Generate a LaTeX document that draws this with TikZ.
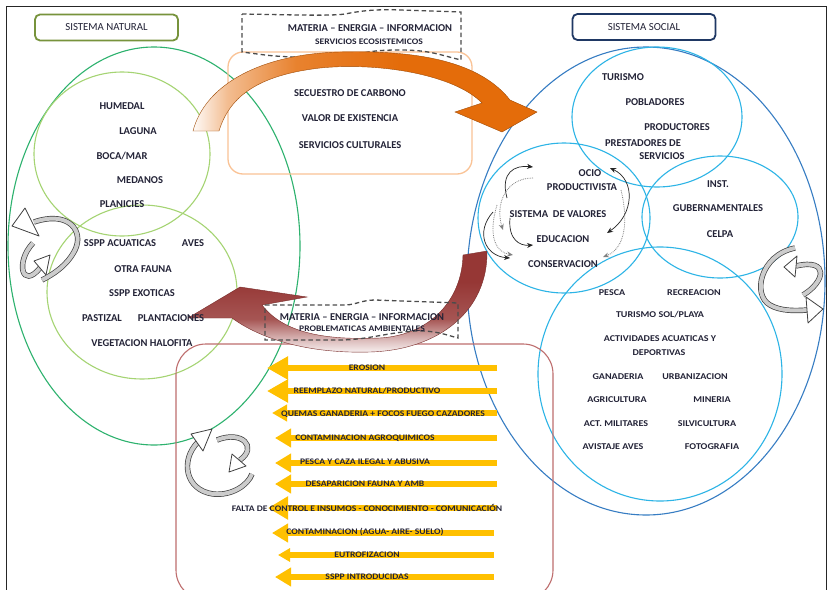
\documentclass[tikz,border=0pt]{standalone}
\usepackage{fontspec}
\setmainfont{Carlito}
\newfontfamily\widefont[FakeStretch=1.13]{Carlito}
\usetikzlibrary{arrows.meta}
\definecolor{txt}{RGB}{35,35,55}
\definecolor{natgreen}{RGB}{119,147,60}
\definecolor{socnavy}{RGB}{31,56,100}
\definecolor{biggreen}{RGB}{45,178,110}
\definecolor{ltgreen}{RGB}{165,212,115}
\definecolor{bigblue}{RGB}{55,125,195}
\definecolor{ltblue}{RGB}{45,180,230}
\definecolor{orbox}{RGB}{250,195,150}
\definecolor{orarrow}{RGB}{228,108,10}
\definecolor{mrn}{RGB}{150,55,53}
\definecolor{rosebox}{RGB}{190,110,110}
\definecolor{ylw}{RGB}{255,192,0}
\pgfdeclareverticalshading{mrnshade}{100bp}{color(0bp)=(mrn!4); color(25bp)=(mrn!4); color(31bp)=(mrn!30); color(42bp)=(mrn!85); color(60bp)=(mrn); color(100bp)=(mrn)}
\pgfdeclarehorizontalshading{orshade}{100bp}{color(0bp)=(orarrow!3); color(25bp)=(orarrow!3); color(30bp)=(orarrow!45); color(40bp)=(orarrow!85); color(55bp)=(orarrow); color(100bp)=(orarrow)}
\tikzset{
  lbl/.style={font=\bfseries\fontsize{10.5}{12}\selectfont, text=txt, inner sep=0pt},
  slbl/.style={font=\widefont\bfseries\fontsize{8.9}{10}\selectfont, text=txt, inner sep=0pt},
  ylbl/.style={font=\widefont\bfseries\fontsize{8.5}{10}\selectfont, text=txt, inner sep=0pt},
  titlebox/.style={draw, line width=1.8pt, rounded corners=5pt, minimum width=143pt, minimum height=26pt, inner sep=0pt, font=\fontsize{10.8}{12}\selectfont, text=txt},
  ellline/.style={line width=1.1pt},
  dashbox/.style={draw=black!70, line width=1.3pt, dash pattern=on 4.5pt off 3pt},
  yarr/.style={draw=ylw, line width=6pt},
  smallarr/.style={draw=black!85, line width=0.7pt, -{Stealth[length=6pt,width=5pt]}},
  dotarr/.style={draw=black!50, line width=0.8pt, densely dotted, -{Stealth[length=6pt,width=5pt]}},
  cyc/.style={draw=black!75, line width=0.7pt, double=black!20, double distance=4pt},
  cychead/.style={draw=black!75, fill=white, line width=0.8pt, line join=round},
}
\begin{document}
\begin{tikzpicture}[x=1pt,y=-1pt]
\useasboundingbox (0,0) rectangle (832,589);
\fill[white] (0,0) rectangle (832,589);
% frame
\draw[black!85, line width=1pt] (6,600) -- (6,6.5) -- (826.5,6.5) -- (826.5,600);

% natural system ellipses
\draw[biggreen, ellline] (154,246) ellipse [x radius=146pt, y radius=199pt];
\draw[ltgreen, ellline] (122,154) ellipse [x radius=88pt, y radius=82pt];
\draw[ltgreen, ellline] (142,292) ellipse [x radius=95pt, y radius=87pt];
% social system ellipses
\draw[bigblue, ellline] (646,281) ellipse [x radius=179pt, y radius=234pt];
\draw[ltblue, ellline] (657,117) ellipse [x radius=85pt, y radius=70pt];
\draw[ltblue, ellline] (564,218) ellipse [x radius=86pt, y radius=75pt];
\draw[ltblue, ellline] (720,217) ellipse [x radius=78pt, y radius=61pt];
\draw[ltblue, ellline] (660,374) ellipse [x radius=122pt, y radius=127pt];

% boxes
\draw[orbox, line width=1.3pt, rounded corners=15pt] (228,52) rectangle (472,174);
\draw[rosebox, line width=1.1pt, rounded corners=30pt] (176,344) rectangle (553,600);

% title boxes
\node[titlebox, draw=natgreen] (natural) at (106.5,27.5) {SISTEMA NATURAL};
\node[titlebox, draw=socnavy] (social) at (644,27) {SISTEMA SOCIAL};

% top dashed shape
\draw[dashbox] (242,14) .. controls (300,15) and (330,16) .. (345,14) .. controls (360,11) and (375,9) .. (400,10) -- (461,12) -- (461,60)
  .. controls (440,55) and (430,50) .. (400,50) .. controls (380,50) and (370,51) .. (355,55) .. controls (330,58) and (290,58) .. (265,55) -- (242,52) -- cycle;
\node[lbl] (mei1) at (370,28) {MATERIA -- ENERGIA -- INFORMACION};
\node[ylbl] (serv) at (369,42) {SERVICIOS ECOSISTEMICOS};

% orange arrow
\shadedraw[shading=orshade, draw=orarrow!70!black, line width=0.4pt]
  (193,131) -- (219,131) .. controls (230,95) and (260,75) .. (320,68) .. controls (380,62) and (455,75) .. (482,103)
  -- (455,112) -- (502,132) -- (537,112) -- (510,100)
  .. controls (480,62) and (420,50) .. (340,52) .. controls (260,54) and (205,85) .. (193,131) -- cycle;

\node[lbl] (secuestro) at (350,93) {SECUESTRO DE CARBONO};
\node[lbl] (valor) at (350,118) {VALOR DE EXISTENCIA};
\node[lbl] (culturales) at (350,145) {SERVICIOS CULTURALES};

% maroon arrow
\shadedraw[shading=mrnshade, draw=mrn!80!black, line width=0.4pt]
  (188,318) -- (240,287) -- (307,297) -- (262,305)
  .. controls (285,335) and (330,340) .. (380,338) .. controls (430,335) and (462,300) .. (463,255)
  -- (487,251) .. controls (488,310) and (440,350) .. (370,352) .. controls (300,354) and (255,335) .. (232,318) -- cycle;

% second dashed shape
\draw[dashbox] (265,305) -- (345,305) .. controls (355,305) and (362,300) .. (375,300) -- (458,303) -- (458,338)
  .. controls (450,336) and (440,332) .. (425,331) .. controls (395,330) and (370,340) .. (340,340) -- (265,340) -- cycle;
\node[lbl] (mei2) at (362,317) {MATERIA -- ENERGIA -- INFORMACION};
\node[ylbl] (probl) at (362,329) {PROBLEMATICAS AMBIENTALES};

% natural texts
\node[lbl] (humedal) at (122,106) {HUMEDAL};
\node[lbl] (laguna) at (138,131) {LAGUNA};
\node[lbl] (boca) at (122,156) {BOCA/MAR};
\node[lbl] (medanos) at (140,180) {MEDANOS};
\node[lbl] (planicies) at (122,204) {PLANICIES};
\node[lbl] (acuaticas) at (120,243) {SSPP ACUATICAS};
\node[lbl] (aves) at (193,243) {AVES};
\node[lbl] (otrafauna) at (143,269) {OTRA FAUNA};
\node[lbl] (exoticas) at (142,293) {SSPP EXOTICAS};
\node[lbl] (pastizal) at (102,318) {PASTIZAL};
\node[lbl] (plantaciones) at (171,318) {PLANTACIONES};
\node[lbl] (halofita) at (142,343) {VEGETACION HALOFITA};

% social texts
\node[lbl] (turismo) at (623,77) {TURISMO};
\node[lbl] (pobladores) at (655,102) {POBLADORES};
\node[lbl] (productores) at (677,127) {PRODUCTORES};
\node[lbl] (prestadores) at (643,143) {PRESTADORES DE};
\node[lbl] (servicios) at (662,156) {SERVICIOS};
\node[lbl] (ocio) at (590,173) {OCIO};
\node[lbl] (productivista) at (582,187) {PRODUCTIVISTA};
\node[lbl] (valores) at (558,214) {SISTEMA\ \ DE VALORES};
\node[lbl] (educacion) at (563,239) {EDUCACION};
\node[lbl] (conservacion) at (563,264) {CONSERVACION};
\node[lbl] (inst) at (718,184) {INST.};
\node[lbl] (guber) at (718,208) {GUBERNAMENTALES};
\node[lbl] (celpa) at (720,234) {CELPA};
\node[slbl] (pesca) at (612,293) {PESCA};
\node[slbl] (recreacion) at (694,293) {RECREACION};
\node[slbl] (solplaya) at (660,315) {TURISMO SOL/PLAYA};
\node[slbl] (actividades) at (660,339) {ACTIVIDADES ACUATICAS Y};
\node[slbl] (deportivas) at (659,353) {DEPORTIVAS};
\node[slbl] (ganaderia) at (618,377) {GANADERIA};
\node[slbl] (urbanizacion) at (695,377) {URBANIZACION};
\node[slbl] (agricultura) at (617,400) {AGRICULTURA};
\node[slbl] (mineria) at (712,400) {MINERIA};
\node[slbl] (militares) at (616,424) {ACT. MILITARES};
\node[slbl] (silvicultura) at (707,424) {SILVICULTURA};
\node[slbl] (avistaje) at (613,447) {AVISTAJE AVES};
\node[slbl] (fotografia) at (712,447) {FOTOGRAFIA};

% small arrows in education circle
\draw[smallarr] (507,198) .. controls (500,172) and (515,165) .. (533,167);
\draw[dotarr] (533,178) .. controls (505,178) and (495,205) .. (503,230);
\draw[smallarr] (510,218) .. controls (508,240) and (520,246) .. (533,245);
\draw[smallarr] (493,212) .. controls (475,232) and (485,256) .. (510,258);
\draw[dotarr] (497,205) .. controls (488,235) and (495,252) .. (513,255);
\draw[smallarr, {Stealth[length=6pt,width=5pt]}-{Stealth[length=6pt,width=5pt]}] (610,168) .. controls (636,180) and (634,215) .. (607,233);
\draw[dotarr] (621,190) .. controls (630,228) and (622,250) .. (603,257);

% yellow arrows
\foreach \n/\xs/\xe/\yy/\hl/\hw in {1/497/267/368/21/22, 2/497/267/391/21/22, 3/497/272/413/15/16, 4/497/275/438/16/18, 5/497/275/463/16/18, 6/497/275/484/16/18, 7/497/268/508/20/22, 8/494/272/533/16/18, 9/494/278/555/12/13, 10/494/275/577/16/18}{
  \coordinate (ys\n) at (\xs,\yy);
  \coordinate (ye\n) at (\xe,\yy);
  \draw[yarr, -{Triangle[length=\hl pt,width=\hw pt]}] (ys\n) -- (ye\n);
}
\node[ylbl] (erosion) at (367,368) {EROSION};
\node[ylbl] (reemplazo) at (367,391) {REEMPLAZO NATURAL/PRODUCTIVO};
\node[ylbl] (quemas) at (383,414) {QUEMAS GANADERIA + FOCOS FUEGO CAZADORES};
\node[ylbl] (agroq) at (365,438) {CONTAMINACION AGROQUIMICOS};
\node[ylbl] (caza) at (365,462) {PESCA Y CAZA ILEGAL Y ABUSIVA};
\node[ylbl] (desap) at (365,484) {DESAPARICION FAUNA Y AMB};
\node[ylbl] (falta) at (367,508) {FALTA DE CONTROL E INSUMOS - CONOCIMIENTO - COMUNICACIÓN};
\node[ylbl] (contam) at (365,532) {CONTAMINACION (AGUA- AIRE- SUELO)};
\node[ylbl] (eutro) at (367,555) {EUTROFIZACION};
\node[ylbl] (introd) at (367,577) {SSPP INTRODUCIDAS};

% cyclic arrows: left
\draw[cyc] (33,243) .. controls (15,262) and (22,290) .. (40,268);
\draw[cychead] (50,255) -- (34,261) -- (46,275) -- cycle;
\draw[cyc] (34,222) .. controls (70,210) and (84,232) .. (75,250) .. controls (67,266) and (52,275) .. (42,280);
\draw[cychead] (12,226) -- (25,208) -- (39,236) -- cycle;
% right
\draw[cyc] (803,295) .. controls (825,282) and (830,258) .. (796,266);
\draw[cychead] (784,267) -- (797,256) -- (795,277) -- cycle;
\draw[cyc] (795,248) .. controls (760,255) and (752,295) .. (770,305) .. controls (780,311) and (795,311) .. (807,310);
\draw[cychead] (823,309) -- (806,297) -- (808,323) -- cycle;
% bottom
\draw[cyc] (217,440) .. controls (242,430) and (258,447) .. (240,460);
\draw[cychead] (229,472) -- (232,454) -- (246,466) -- cycle;
\draw[cyc] (198,442) .. controls (180,460) and (185,490) .. (213,494) .. controls (232,496) and (248,485) .. (252,474);
\draw[cychead] (212,429) -- (191,434) -- (203,451) -- cycle;
\end{tikzpicture}
\end{document}
